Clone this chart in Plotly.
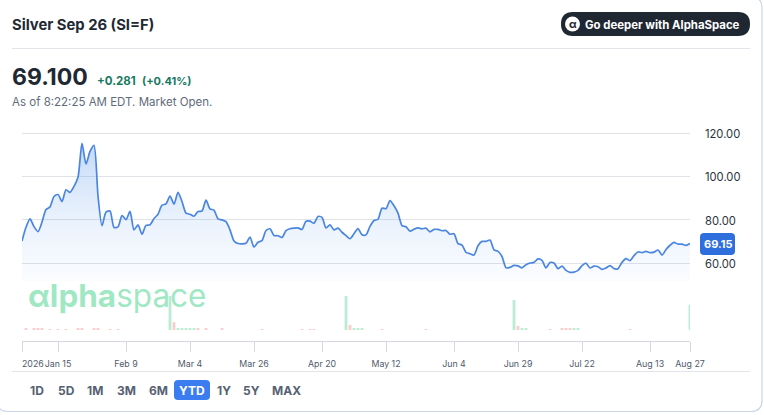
import plotly.graph_objects as go

W, H = 764, 415

prices = [70.2, 76.5, 80.4, 76.8, 74.5, 78.9, 84.7, 85.9, 90.7, 91.6, 88.4, 93.8, 92.6, 95.4, 99.6, 115.2, 105.7, 111.5, 114.3, 91, 77.2,
          83.5, 84, 76.4, 76.7, 81.9, 80, 83.8, 75.3, 77.6, 73.3, 77.4, 77.6, 80.5, 82.5, 86.7, 87.3, 90.9, 87.2, 92.6, 88.4,
          83, 82.5, 81.6, 83.8, 84, 89, 85, 84.4, 80.4, 79.9, 79.1, 75.3, 70.2, 69, 68.8, 69.1, 72, 67.4, 69.6,
          70.3, 75, 75.8, 72.7, 72.6, 71.8, 75, 75.8, 76.1, 76.2, 75.5, 79.3, 79.3, 78.4, 81.5, 81.1, 76.2, 77.6, 75.3, 76.1, 74.2,
          72.7, 71.2, 73.5, 75.9, 73, 73, 76.9, 79.6, 80.2, 85.3, 85.1, 88.8, 86.4, 83, 77.3, 76.7, 74.7, 75.6, 76.2, 75.8, 76.1,
          74.4, 75.5, 75.5, 74.9, 75, 73.3, 73.5, 68.9, 68.3, 64.9, 64.3, 63.7, 68, 70, 70, 70.6, 66.1, 65.4, 63,
          57.8, 58, 58.9, 58.7, 57.8, 59.2, 60, 60.3, 61.9, 61.2, 57.8, 60.2, 60, 57.4, 58.6, 56.6, 55.7, 55.8, 56.6, 58.8, 59.9,
          57.7, 58.6, 58.3, 57.1, 57.7, 58.8, 57.4, 57.4, 60.3, 62, 61.1, 63.4, 65.1, 64.8, 65.4, 64.8, 65, 66, 63.7, 66.2, 68.2,
          69.5, 68.7, 68.7, 68.1, 69]
days = list(range(len(prices)))

up_days = [37, 39, 40, 41, 42, 43, 81, 83, 84, 85, 123, 125, 126, 138, 139, 167]
up_vol = [100, 6, 5, 5, 4, 3, 100, 4, 4, 3, 88, 6, 4, 4, 4, 74]
down_days = [1, 3, 4, 5, 7, 9, 11, 14, 15, 18, 19, 22, 24, 38, 44, 46, 50, 60, 70, 72, 73, 82, 90, 101, 124, 132, 135, 136, 137, 152]
down_vol = [3, 3, 5, 4, 2, 2, 2, 3, 3, 5, 4, 2, 2, 23, 4, 3, 3, 2, 2, 2, 2, 15, 2, 2, 12, 2, 3, 4, 3, 2]

y_ticks = [60, 80, 100, 120]
y_labels = ["60.00", "80.00", "100.00", "120.00"]
tick_days = [0, 9, 26, 42, 58, 75, 91, 108, 124, 140, 157, len(prices) - 1]
tick_labels = ["", "Jan 15", "Feb 9", "Mar 4", "Mar 26", "Apr 20", "May 12", "Jun 4", "Jun 29", "Jul 22", "Aug 13", "Aug 27"]
range_buttons = ["1D", "5D", "1M", "3M", "6M", "YTD", "1Y", "5Y", "MAX"]
button_centers = [37, 66, 95, 126, 158, 192, 224, 251, 286]


def px(x):
    return x / W


def py(y):
    return 1 - y / H


FONT = "Inter, 'Liberation Sans', sans-serif"
ink = "#1f2933"
grey = "#4f5b6b"

fig = go.Figure()
fig.add_trace(go.Scatter(
    x=days, y=prices, mode="lines", fill="tozeroy",
    line=dict(color="#4a86e0", width=1.7, shape="spline", smoothing=0.7),
    fillgradient=dict(type="vertical", start=51.7, stop=116,
                      colorscale=[[0, "rgba(120,170,240,0.03)"], [0.45, "rgba(110,165,240,0.15)"], [1, "rgba(90,150,235,0.36)"]]),
    hoverinfo="skip", xaxis="x", yaxis="y",
))
fig.add_trace(go.Bar(x=up_days, y=up_vol, marker=dict(color="#bcebd3", line_width=0), width=0.7, xaxis="x", yaxis="y2", hoverinfo="skip"))
fig.add_trace(go.Bar(x=down_days, y=down_vol, marker=dict(color="#f9cdcd", line_width=0), width=0.7, xaxis="x", yaxis="y2", hoverinfo="skip"))


def rrect(x0, y0, x1, y1, r):
    a, b, c, d = px(x0), py(y0), px(x1), py(y1)
    rx, ry = r / W, r / H
    return (f"M {a+rx} {b} L {c-rx} {b} Q {c} {b} {c} {b-ry} L {c} {d+ry} Q {c} {d} {c-rx} {d} "
            f"L {a+rx} {d} Q {a} {d} {a} {d+ry} L {a} {b-ry} Q {a} {b} {a+rx} {b} Z")


def path_shape(path, fill, line="rgba(0,0,0,0)", lw=0, layer="below"):
    return dict(type="path", xref="paper", yref="paper", path=path, fillcolor=fill, line=dict(color=line, width=lw), layer=layer)


def rule(y):
    return dict(type="line", xref="paper", yref="paper", x0=px(12), x1=px(750), y0=py(y), y1=py(y),
                line=dict(color="#e1e5ea", width=1), layer="below")


shapes = [
    path_shape(rrect(-3, -3, 762, 411.5, 11), "#ffffff", "#c9d6e8", 1.2),
    rule(48.5), rule(371.5),
    path_shape(rrect(561, 12, 750, 36, 12), "#1f2733"),
    dict(type="circle", xref="paper", yref="paper", x0=px(565), x1=px(580), y0=py(16.5), y1=py(31.5), fillcolor="#ffffff", line_width=0, layer="below"),
    path_shape(rrect(700, 233, 735, 255, 4), "#2f6fdd", layer="above"),
    path_shape(rrect(174, 380, 210, 400, 4), "#3b7cf0"),
]


def text(x, y, s, size, color=ink, anchor="left", family=FONT):
    return dict(xref="paper", yref="paper", x=px(x), y=py(y), text=s, showarrow=False, xanchor=anchor, yanchor="middle",
                font=dict(size=size, color=color, family=family), borderpad=0, borderwidth=0)


annotations = [
    text(12, 25, "<b>Silver Sep 26 (SI=F)</b>", 14.8),
    text(12, 77, "<b>69.100</b>", 23),
    text(97, 81, "<b>+0.281</b>", 11.5, "#177a5f"),
    text(142, 81, "<b>(+0.41%)</b>", 11, "#177a5f"),
    text(12, 101.5, "As of 8:22:25 AM EDT. Market Open.", 11.5, "#5f6b7a"),
    text(572.5, 24, "<b>α</b>", 11, "#1f2733", "center"),
    text(585, 25, "<b>Go deeper with AlphaSpace</b>", 11.4, "#ffffff"),
    text(717.5, 244, "<b>69.15</b>", 11, "#ffffff", "center"),
    text(28, 295, "<b>αlpha</b>space", 31.5, "rgba(110,220,165,0.68)"),
    text(33, 363, "2026", 8.8, grey, "center"),
]
for label, cx in zip(range_buttons, button_centers):
    annotations.append(text(cx, 390.5, f"<b>{label}</b>", 12, "#ffffff" if label == "YTD" else "#566273", "center"))

fig.update_layout(
    width=W, height=H, margin=dict(l=0, r=0, t=0, b=0), autosize=False,
    paper_bgcolor="#ffffff", plot_bgcolor="rgba(0,0,0,0)", showlegend=False, barmode="overlay",
    font=dict(family=FONT), shapes=shapes, annotations=annotations,
    xaxis=dict(domain=[px(22), px(690)], range=[0, len(prices) - 1], anchor="free", position=py(341), automargin=False,
               tickmode="array", tickvals=tick_days, ticktext=tick_labels, ticks="outside", ticklen=10, tickcolor="#d5d9df", tickwidth=1,
               ticklabelstandoff=4, tickangle=0,
               showline=True, linecolor="#d5d9df", linewidth=1, showgrid=False, zeroline=False,
               tickfont=dict(size=8.8, color=grey, family=FONT)),
    yaxis=dict(domain=[py(281), py(125)], range=[51.7, 123.7], side="right", anchor="x", automargin=False,
               tickmode="array", tickvals=y_ticks, ticktext=y_labels, ticks="", ticklabelstandoff=14, ticklabelshift=1,
               showgrid=True, gridcolor="#dfe2e7", gridwidth=1, zeroline=False, showline=False,
               tickfont=dict(size=11.2, color="#2a323c", family=FONT)),
    yaxis2=dict(domain=[py(330), py(296)], range=[0, 100], anchor="x", visible=False, showgrid=False, automargin=False),
)

fig.write_html("out.html", config=dict(displayModeBar=False),
               post_script="document.body.style.margin='0';document.body.style.overflow='hidden';")
